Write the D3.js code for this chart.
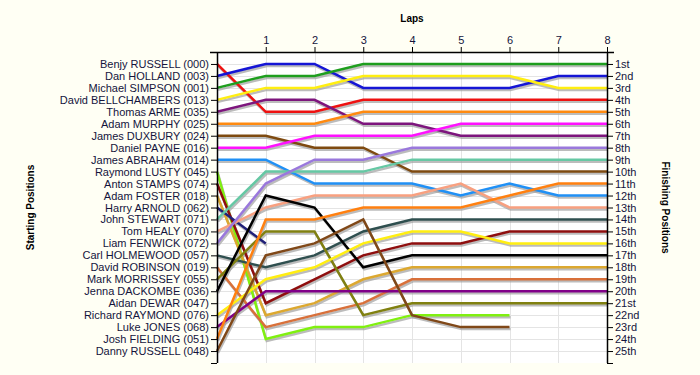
<!DOCTYPE html>
<html>
<head>
<meta charset="utf-8">
<script src="https://cdn.jsdelivr.net/npm/d3@7"></script>
<style>
  html, body { margin: 0; padding: 0; background: #FFFFF4; }
  svg { display: block; }
</style>
</head>
<body>
<svg id="chart" width="700" height="375"></svg>
<script>
// ---- data ----
const laps = [0, 1, 2, 3, 4, 5, 6, 7, 8];
const lapTicks = [1, 2, 3, 4, 5, 6, 7, 8];
const drivers = [
  "Benjy RUSSELL (000)", "Dan HOLLAND (003)", "Michael SIMPSON (001)", "David BELLCHAMBERS (013)",
  "Thomas ARME (035)", "Adam MURPHY (025)", "James DUXBURY (024)", "Daniel PAYNE (016)",
  "James ABRAHAM (014)", "Raymond LUSTY (045)", "Anton STAMPS (074)", "Adam FOSTER (018)",
  "Harry ARNOLD (062)", "John STEWART (071)", "Tom HEALY (070)", "Liam FENWICK (072)",
  "Carl HOLMEWOOD (057)", "David ROBINSON (019)", "Mark MORRISSEY (055)", "Jenna DACKOMBE (036)",
  "Aidan DEWAR (047)", "Richard RAYMOND (076)", "Luke JONES (068)", "Josh FIELDING (051)",
  "Danny RUSSELL (048)"
];
const finishLabels = [
  "1st","2nd","3rd","4th","5th","6th","7th","8th","9th","10th","11th","12th","13th",
  "14th","15th","16th","17th","18th","19th","20th","21st","22nd","23rd","24th","25th"
];
const lineColors = [
  "#EE1111", "#1515D5", "#1E9E1E", "#FFEE11", "#7D157D", "#FF8A10", "#7E4A10", "#FF11FF",
  "#2090F5", "#80F010", "#8E0E0E", "#DCA830", "#202078", "#66C8A4", "#F8A080", "#9A78DC",
  "#2F4F4F", "#D8703A", "#808010", "#000000", null, "#FFEE11", "#800088", "#FF8010",
  "#804818"
];
// position of each driver (in starting order) at laps 0..8; null = not running
const positions = [
  [1, 5, 5, 4, 4, 4, 4, 4, 4],
  [2, 1, 1, 3, 3, 3, 3, 2, 2],
  [3, 2, 2, 1, 1, 1, 1, 1, 1],
  [4, 3, 3, 2, 2, 2, 2, 3, 3],
  [5, 4, 4, 6, 6, 7, 7, 7, 7],
  [6, 6, 6, 5, 5, 5, 5, 5, 5],
  [7, 7, 8, 8, 10, 10, 10, 10, 10],
  [8, 8, 7, 7, 7, 6, 6, 6, 6],
  [9, 9, 11, 11, 11, 12, 11, 12, 12],
  [10, 24, 23, 23, 22, 22, 22, null, null],
  [11, 21, 19, 17, 16, 16, 15, 15, 15],
  [12, 22, 21, 19, 18, 18, 18, 18, 18],
  [13, 16, null, null, null, null, null, null, null],
  [14, 10, 10, 10, 9, 9, 9, 9, 9],
  [15, 13, 12, 12, 12, 11, 13, 13, 13],
  [16, 11, 9, 9, 8, 8, 8, 8, 8],
  [17, 18, 17, 15, 14, 14, 14, 14, 14],
  [18, 23, 22, 21, 19, 19, 19, 19, 19],
  [19, 15, 15, 22, 21, 21, 21, 21, 21],
  [20, 12, 13, 18, 17, 17, 17, 17, 17],
  [null, null, null, null, null, null, null, null, null],
  [22, 19, 18, 16, 15, 15, 16, 16, 16],
  [23, 20, 20, 20, 20, 20, 20, 20, 20],
  [24, 14, 14, 13, 13, 13, 12, 11, 11],
  [25, 17, 16, 14, 22, 23, 23, null, null]
];

// ---- chart ----
const svg = d3.select("#chart");
const x = d3.scaleLinear().domain([0, 8]).range([217, 607]);
const y = d3.scaleLinear().domain([0, 26]).range([52, 363]);
const textColor = "#14143C";
const font = "'Liberation Sans', Arial, sans-serif";

// plot background
svg.append("rect")
  .attr("x", x(0)).attr("y", y(0))
  .attr("width", x(8) - x(0)).attr("height", y(26) - y(0))
  .attr("fill", "#FFFFFF");

// grid
const grid = svg.append("g").attr("stroke", "#E4E4E4").attr("stroke-width", 1);
grid.selectAll("line.v").data(lapTicks.slice(0, 7)).join("line")
  .attr("x1", d => Math.round(x(d)) + 0.5).attr("x2", d => Math.round(x(d)) + 0.5)
  .attr("y1", y(0)).attr("y2", y(26));
grid.selectAll("line.h").data(d3.range(1, 26)).join("line")
  .attr("x1", x(0)).attr("x2", x(8))
  .attr("y1", d => Math.round(y(d)) + 0.5).attr("y2", d => Math.round(y(d)) + 0.5);

// lines
const line = d3.line()
  .defined(d => d.p != null)
  .x(d => x(d.lap)).y(d => y(d.p));
const series = positions.map((ps, i) => ({
  color: lineColors[i],
  pts: ps.map((p, j) => ({ lap: laps[j], p: p }))
})).filter(s => s.color);

const lg = svg.append("g").attr("fill", "none").attr("stroke-linejoin", "miter");
// shadows
lg.selectAll("path.sh").data(series).join("path")
  .attr("d", s => line(s.pts))
  .attr("transform", "translate(1,2)")
  .attr("stroke", "#A0A0A0").attr("stroke-opacity", 0.7).attr("stroke-width", 2.5);
lg.selectAll("path.ln").data(series).join("path")
  .attr("d", s => line(s.pts))
  .attr("stroke", s => s.color).attr("stroke-width", 2.5);

// top axis
const topAxis = svg.append("g")
  .attr("transform", `translate(0,${y(0)})`)
  .call(d3.axisTop(x).tickValues(lapTicks).tickSize(5).tickSizeOuter(0).tickPadding(3));
topAxis.select(".domain").attr("d", `M${x(0) - 7},0.5H${x(8) + 7}`);

// left axis
const leftAxis = svg.append("g")
  .attr("transform", `translate(${x(0)},0)`)
  .call(d3.axisLeft(y).tickValues(d3.range(1, 27)).tickSize(6).tickSizeOuter(0).tickPadding(2)
    .tickFormat(d => drivers[d - 1] || ""));
leftAxis.select(".domain").attr("d", `M0.5,${y(0)}V${y(26)}`);

// right axis
const rightAxis = svg.append("g")
  .attr("transform", `translate(${x(8)},0)`)
  .call(d3.axisRight(y).tickValues(d3.range(1, 27)).tickSize(6).tickSizeOuter(0).tickPadding(2)
    .tickFormat(d => finishLabels[d - 1] || ""));
rightAxis.select(".domain").attr("d", `M0.5,${y(0)}V${y(26)}`);

[topAxis, leftAxis, rightAxis].forEach(a => {
  a.selectAll("path.domain").attr("stroke", "#000").attr("stroke-width", 1.5);
  a.selectAll(".tick line").attr("stroke", "#000");
  a.selectAll("text").attr("fill", textColor).style("font-family", font).style("font-size", "11px");
});

// titles
svg.append("text").attr("x", x(4)).attr("y", 22).attr("text-anchor", "middle")
  .style("font-family", font).style("font-size", "10px").style("font-weight", "bold")
  .attr("fill", "#000").text("Laps");
svg.append("text").attr("transform", `translate(34,${y(13)}) rotate(-90)`).attr("text-anchor", "middle")
  .style("font-family", font).style("font-size", "10px").style("font-weight", "bold")
  .attr("fill", "#000").text("Starting Positions");
svg.append("text").attr("transform", `translate(662,${y(13)}) rotate(90)`).attr("text-anchor", "middle")
  .style("font-family", font).style("font-size", "10px").style("font-weight", "bold")
  .attr("fill", "#000").text("Finishing Positions");
</script>
</body>
</html>
